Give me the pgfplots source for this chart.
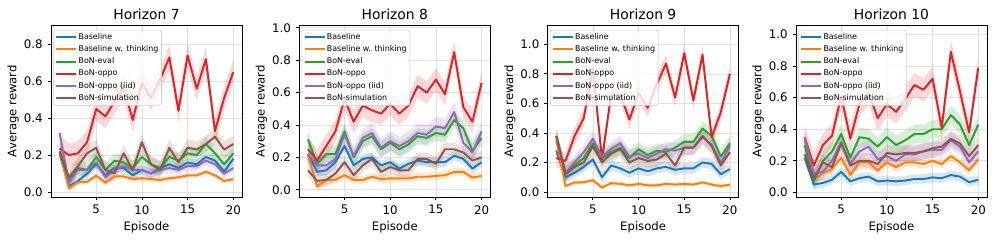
\documentclass[border=0pt]{standalone}
\usepackage{pgfplots}
\pgfplotsset{compat=1.18}
\usepackage{pgfplotstable}
\usepgfplotslibrary{fillbetween}
\usepackage{fontspec}
\setmainfont{DejaVu Sans}
\definecolor{C0}{HTML}{1F77B4}
\definecolor{C1}{HTML}{FF7F0E}
\definecolor{C2}{HTML}{2CA02C}
\definecolor{C3}{HTML}{D62728}
\definecolor{C4}{HTML}{9467BD}
\definecolor{C5}{HTML}{8C564B}

\pgfplotstableread{
x b bt ev op iid sim
1 0.21 0.22 0.22 0.236 0.32 0.22
2 0.03 0.02 0.06 0.20 0.05 0.08
3 0.06 0.055 0.13 0.21 0.12 0.14
4 0.10 0.055 0.12 0.27 0.12 0.21
5 0.15 0.09 0.19 0.45 0.16 0.24
6 0.09 0.05 0.12 0.41 0.08 0.12
7 0.13 0.085 0.17 0.49 0.12 0.10
8 0.13 0.085 0.16 0.57 0.14 0.21
9 0.09 0.07 0.13 0.39 0.12 0.12
10 0.12 0.075 0.19 0.59 0.12 0.27
11 0.10 0.07 0.15 0.51 0.10 0.15
12 0.13 0.065 0.13 0.61 0.12 0.12
13 0.15 0.075 0.19 0.73 0.13 0.24
14 0.13 0.08 0.17 0.44 0.12 0.16
15 0.16 0.09 0.21 0.74 0.14 0.24
16 0.15 0.09 0.20 0.56 0.14 0.23
17 0.19 0.11 0.26 0.72 0.17 0.26
18 0.17 0.09 0.21 0.33 0.15 0.30
19 0.11 0.06 0.15 0.51 0.10 0.23
20 0.18 0.07 0.21 0.65 0.13 0.26
}\tA
\pgfplotstableread{
x b bt ev op iid sim
1 0.22 0.21 0.31 0.25 0.22 0.12
2 0.11 0.02 0.16 0.18 0.15 0.055
3 0.12 0.06 0.22 0.27 0.15 0.06
4 0.17 0.06 0.22 0.36 0.19 0.10
5 0.27 0.09 0.36 0.56 0.34 0.17
6 0.15 0.06 0.20 0.42 0.21 0.09
7 0.19 0.06 0.30 0.52 0.32 0.15
8 0.20 0.08 0.33 0.49 0.35 0.19
9 0.15 0.065 0.25 0.47 0.26 0.11
10 0.17 0.07 0.29 0.53 0.30 0.14
11 0.13 0.07 0.25 0.47 0.27 0.12
12 0.16 0.07 0.28 0.52 0.30 0.12
13 0.18 0.08 0.33 0.64 0.35 0.19
14 0.17 0.08 0.32 0.60 0.34 0.19
15 0.17 0.085 0.35 0.68 0.39 0.16
16 0.17 0.09 0.34 0.59 0.38 0.25
17 0.21 0.11 0.43 0.85 0.48 0.25
18 0.19 0.11 0.38 0.51 0.29 0.23
19 0.13 0.075 0.24 0.42 0.23 0.18
20 0.17 0.085 0.32 0.66 0.36 0.20
}\tB
\pgfplotstableread{
x b bt ev op iid sim
1 0.28 0.35 0.38 0.23 0.37 0.38
2 0.10 0.04 0.13 0.21 0.13 0.12
3 0.13 0.065 0.18 0.38 0.20 0.17
4 0.17 0.065 0.23 0.50 0.27 0.20
5 0.22 0.08 0.33 0.84 0.36 0.31
6 0.10 0.03 0.23 0.22 0.24 0.20
7 0.18 0.06 0.27 0.66 0.29 0.26
8 0.16 0.055 0.30 0.66 0.33 0.29
9 0.13 0.045 0.23 0.49 0.24 0.20
10 0.16 0.055 0.29 0.67 0.26 0.23
11 0.14 0.045 0.25 0.57 0.23 0.21
12 0.16 0.045 0.28 0.73 0.26 0.22
13 0.17 0.055 0.27 0.87 0.29 0.26
14 0.15 0.05 0.30 0.64 0.28 0.18
15 0.16 0.055 0.34 0.94 0.30 0.30
16 0.16 0.05 0.34 0.62 0.30 0.30
17 0.20 0.065 0.43 0.93 0.37 0.38
18 0.19 0.05 0.38 0.37 0.32 0.31
19 0.12 0.04 0.24 0.54 0.20 0.18
20 0.155 0.05 0.33 0.80 0.31 0.27
}\tC
\pgfplotstableread{
x b bt ev op iid sim
1 0.22 0.33 0.30 0.35 0.35 0.24
2 0.05 0.08 0.07 0.17 0.12 0.09
3 0.06 0.12 0.20 0.30 0.13 0.19
4 0.08 0.15 0.26 0.36 0.20 0.16
5 0.13 0.22 0.37 0.61 0.32 0.31
6 0.07 0.11 0.22 0.34 0.18 0.17
7 0.09 0.19 0.35 0.56 0.26 0.20
8 0.10 0.19 0.34 0.63 0.29 0.20
9 0.07 0.14 0.29 0.47 0.21 0.18
10 0.075 0.19 0.35 0.56 0.23 0.25
11 0.07 0.16 0.30 0.51 0.20 0.24
12 0.075 0.19 0.33 0.59 0.24 0.25
13 0.085 0.19 0.37 0.68 0.24 0.25
14 0.085 0.18 0.37 0.65 0.26 0.26
15 0.095 0.20 0.40 0.72 0.27 0.28
16 0.09 0.18 0.40 0.41 0.27 0.29
17 0.11 0.23 0.49 0.89 0.33 0.34
18 0.10 0.19 0.43 0.64 0.29 0.31
19 0.065 0.14 0.30 0.38 0.19 0.23
20 0.08 0.21 0.43 0.79 0.26 0.30
}\tD

\newcommand{\series}[5]{%
  \addplot[draw=none, forget plot, name path=#2u] table[x=x, y expr=\thisrow{#2}+#3]{#1};
  \addplot[draw=none, forget plot, name path=#2l] table[x=x, y expr=\thisrow{#2}-#3]{#1};
  \addplot[fill=#4, fill opacity=0.18, draw=none, forget plot] fill between[of=#2u and #2l];
  \addplot[#4, line width=1.4pt, line join=round] table[x=x, y=#2]{#1};
  \addlegendentry{#5}
}

\pgfplotsset{hz/.style={
  scale only axis, width=137.5pt, height=123.8pt,
  xmin=0.05, xmax=20.95, xtick={5,10,15,20},
  ytick={0,0.2,...,1.0},
  grid=major, grid style={black!12, line width=0.5pt},
  axis line style={line width=0.6pt},
  tick align=outside, xtick pos=left, ytick pos=left,
  major tick length=2.5pt, tick style={black, line width=0.6pt},
  ticklabel style={font=\fontsize{8.5}{10}\selectfont},
  /pgf/number format/assume math mode=true,
  yticklabel style={/pgf/number format/.cd, fixed, fixed zerofill, precision=1},
  xlabel={Episode}, ylabel={Average reward},
  label style={font=\fontsize{8.4}{10}\selectfont},
  xlabel style={at={(axis description cs:0.5,-0.175)}, anchor=center},
  ylabel style={at={(axis description cs:-0.198,0.5)}, anchor=center},
  title style={at={(axis description cs:0.5,1)}, anchor=base, yshift=-1.9pt, font=\fontsize{10}{12}\selectfont},
  legend style={at={(0.012,0.972)}, anchor=north west, font=\fontsize{5.7}{7}\selectfont,
    draw=black!20, rounded corners=1.5pt, fill=white, fill opacity=0.8, text opacity=1,
    inner sep=1.2pt, row sep=1.1pt,
    nodes={inner sep=1pt, text height=4.4pt, text depth=1.3pt}},
  legend cell align=left,
  legend image code/.code={\draw[##1, line width=1.4pt] (0pt,0pt) -- (14.4pt,0pt);},
}}

\begin{document}
\begin{tikzpicture}
\begin{axis}[hz, at={(36.72pt,31.68pt)}, anchor=south west, title={Horizon 7}, ymin=-0.027, ymax=0.905, ytick={0,0.2,...,0.8}]
\series{\tA}{b}{0.025}{C0}{Baseline}
\series{\tA}{bt}{0.015}{C1}{Baseline w. thinking}
\series{\tA}{ev}{0.04}{C2}{BoN-eval}
\series{\tA}{op}{0.065}{C3}{BoN-oppo}
\series{\tA}{iid}{0.025}{C4}{BoN-oppo (iid)}
\series{\tA}{sim}{0.045}{C5}{BoN-simulation}
\end{axis}
\begin{axis}[hz, at={(215.5pt,31.68pt)}, anchor=south west, title={Horizon 8}, ymin=-0.045, ymax=1.017]
\series{\tB}{b}{0.03}{C0}{Baseline}
\series{\tB}{bt}{0.025}{C1}{Baseline w. thinking}
\series{\tB}{ev}{0.05}{C2}{BoN-eval}
\series{\tB}{op}{0.07}{C3}{BoN-oppo}
\series{\tB}{iid}{0.06}{C4}{BoN-oppo (iid)}
\series{\tB}{sim}{0.04}{C5}{BoN-simulation}
\end{axis}
\begin{axis}[hz, at={(394.3pt,31.68pt)}, anchor=south west, title={Horizon 9}, ymin=-0.034, ymax=1.131]
\series{\tC}{b}{0.035}{C0}{Baseline}
\series{\tC}{bt}{0.015}{C1}{Baseline w. thinking}
\series{\tC}{ev}{0.05}{C2}{BoN-eval}
\series{\tC}{op}{0.06}{C3}{BoN-oppo}
\series{\tC}{iid}{0.05}{C4}{BoN-oppo (iid)}
\series{\tC}{sim}{0.05}{C5}{BoN-simulation}
\end{axis}
\begin{axis}[hz, at={(573.1pt,31.68pt)}, anchor=south west, title={Horizon 10}, ymin=-0.029, ymax=1.06]
\series{\tD}{b}{0.03}{C0}{Baseline}
\series{\tD}{bt}{0.03}{C1}{Baseline w. thinking}
\series{\tD}{ev}{0.06}{C2}{BoN-eval}
\series{\tD}{op}{0.075}{C3}{BoN-oppo}
\series{\tD}{iid}{0.05}{C4}{BoN-oppo (iid)}
\series{\tD}{sim}{0.05}{C5}{BoN-simulation}
\end{axis}
\pgfresetboundingbox
\path[use as bounding box] (0,0) rectangle (717.84pt,173.52pt);
\end{tikzpicture}
\end{document}
